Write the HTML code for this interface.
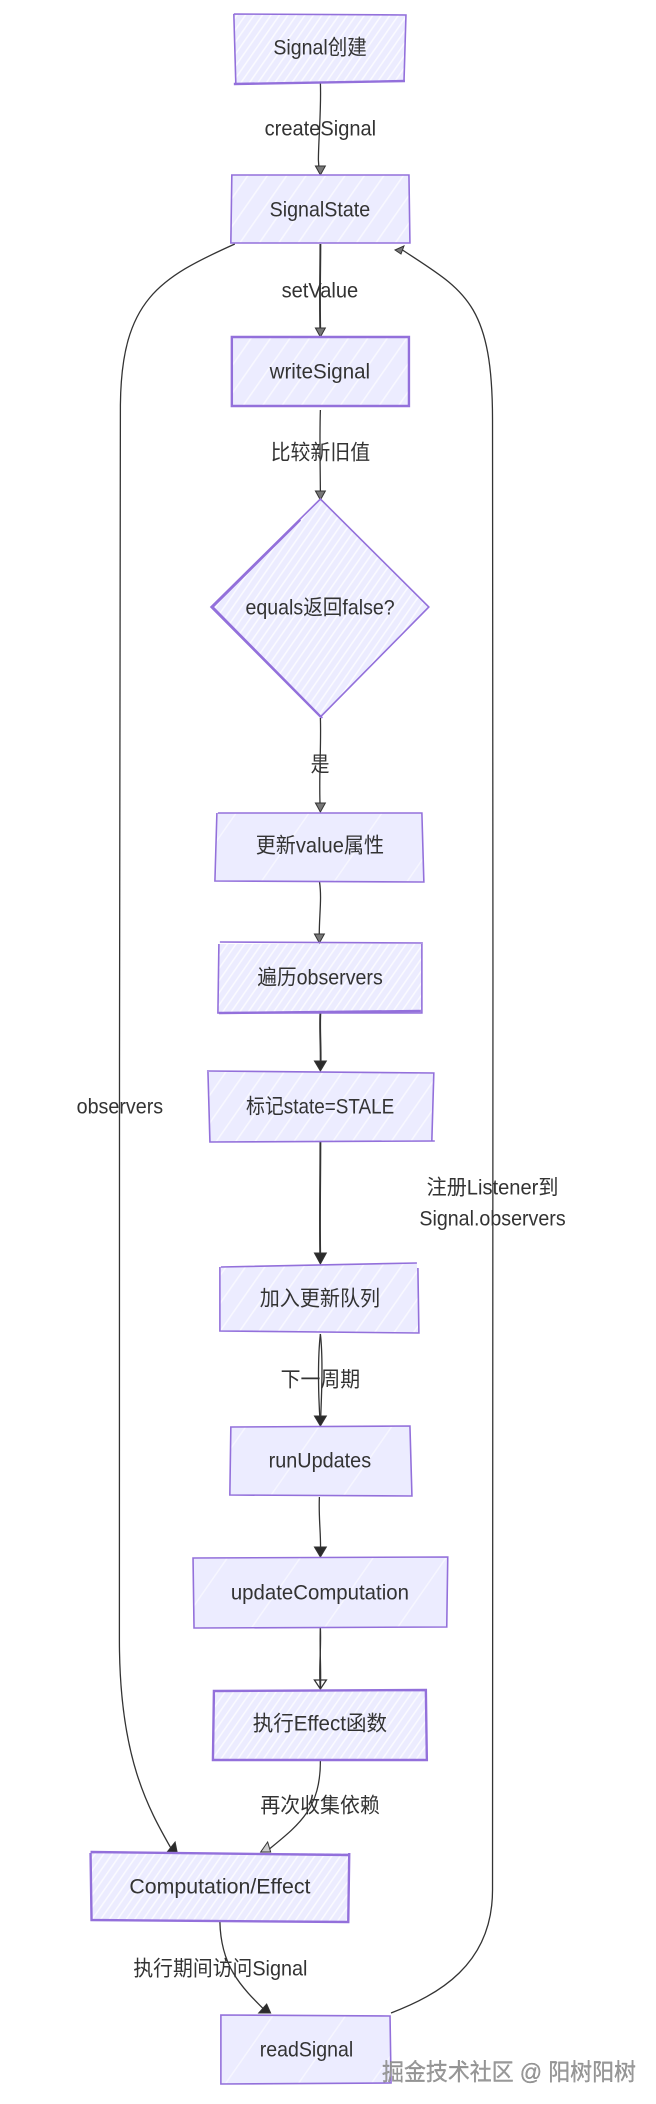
<!DOCTYPE html>
<html>
<head>
<meta charset="utf-8">
<style>
html,body{margin:0;padding:0;background:#fff;width:656px;height:2104px;overflow:hidden}
svg{display:block}
text{font-family:"Liberation Sans","Noto Sans CJK SC",sans-serif;font-size:21px;fill:#333;text-anchor:middle;dominant-baseline:central}
.n{fill:#ECECFF;stroke:none}
.s{fill:none;stroke:#9370DB;stroke-width:1.6}
.s2{fill:none;stroke:#9370DB;stroke-width:2.4}
.e{fill:none;stroke:#333;stroke-width:1.3}
.e2{fill:none;stroke:#333;stroke-width:1.9}
.a{fill:#777;stroke:#333;stroke-width:1}
.b{fill:#2b2b2b;stroke:#333;stroke-width:1}
.w{font-size:23.5px;fill:#999;stroke:#666;stroke-width:.2}
</style>
</head>
<body>
<svg width="656" height="2104" viewBox="0 0 656 2104" xmlns="http://www.w3.org/2000/svg">
<defs>
<pattern id="h1" width="7" height="7" patternUnits="userSpaceOnUse" patternTransform="rotate(35)"><rect width="7" height="7" fill="#ECECFF"/><rect width="1.6" height="7" fill="#fafaff"/></pattern>
<pattern id="h2" width="16" height="16" patternUnits="userSpaceOnUse" patternTransform="rotate(35)"><rect width="16" height="16" fill="#ECECFF"/><rect width="1.6" height="16" fill="#f8f8ff"/></pattern>
<pattern id="h3" width="60" height="60" patternUnits="userSpaceOnUse" patternTransform="rotate(35)"><rect width="60" height="60" fill="#ECECFF"/><rect width="1.5" height="60" fill="#f6f6ff"/></pattern>
</defs>
<g transform="scale(.995,1)">
<!-- edges -->
<path class="e" d="M322 83C323 110 320 140 320 160C320 167 321 170 322 174"/>
<path class="e2" d="M322 244C322 270 321 300 322 335"/>
<path class="e" d="M322 410C321 440 322 470 322 498"/>
<path class="e" d="M322 718C323 750 320 780 322 812"/>
<path class="e" d="M321 881C324 900 320 920 321 942"/>
<path class="e2" d="M322 1013C321 1030 323 1050 322 1070"/>
<path class="e2" d="M322 1142C322 1180 321 1225 322 1263"/>
<path class="e" d="M322 1334C319 1360 320 1400 322 1425"/>
<path class="e" d="M322 1334C325 1360 323 1400 322 1425"/>
<path class="e" d="M321 1497C320 1520 323 1535 322 1556"/>
<path class="e" d="M322 1628C323 1650 320 1670 322 1689"/>
<path class="e" d="M322 1628C321 1650 323 1670 322 1689"/>
<path class="e" d="M322 1761C322 1810 300 1825 267 1852"/>
<path class="e" d="M221 1922C222 1965 240 1985 269 2013"/>
<path class="e" d="M236 244C160 278 122 300 121 405C120 700 120 1300 120 1640C120 1760 150 1810 174 1852"/>
<path class="e" d="M393 2013C440 1995 495 1965 495 1890C495 1500 496 900 495 420C495 300 465 290 403 249"/>

<!-- arrowheads -->
<path class="a" d="M317 166L327 166L322 175Z"/>
<path class="a" d="M317 328L327 328L322 337Z"/>
<path class="a" d="M317 491L327 491L322 500Z"/>
<path class="a" d="M317 803L327 803L322 812Z"/>
<path class="a" d="M316 934L326 934L321 943Z"/>
<path class="b" d="M316 1061L328 1061L322 1071Z"/>
<path class="b" d="M316 1253L328 1253L322 1264Z"/>
<path class="b" d="M316 1416L328 1416L322 1426Z"/>
<path class="b" d="M316 1547L328 1547L322 1557Z"/>
<path class="e" d="M316 1680L322 1689L328 1680Z"/>
<path class="a" d="M262 1852L272 1852L269 1842Z" style="fill:#ccc"/>
<path class="b" d="M168 1852L178 1852L176 1842Z"/>
<path class="b" d="M260 2013L272 2013L268 2004Z"/>
<path class="a" d="M397 250L406 246L403 254Z"/>

<!-- nodes -->
<path class="n" style="fill:url(#h1)" d="M235 14L408 14L406 82L236 84Z"/>
<path class="s" d="M235 14L408 15L406 82M235 14L237 83"/>
<path class="s2" d="M235 84L407 81"/>

<path class="n" style="fill:url(#h2)" d="M233 175L411 175L412 243L232 243Z"/>
<path class="s" d="M233 175L411 175L412 243L232 243Z"/>

<path class="n" style="fill:url(#h2)" d="M233 337L411 337L411 406L233 406Z"/>
<path class="s2" d="M233 337L411 337L411 406L233 406Z"/>

<path class="n" style="fill:url(#h1)" d="M322 500L431 608L322 718L212 608Z"/>
<path class="s" d="M322 499L431 607L322 717L212 607Z"/>
<path class="s" d="M302 520L214 607L324 718"/>

<path class="n" style="fill:url(#h3)" d="M219 813L423 813L426 881L217 881Z"/>
<path class="s" d="M219 813L424 813L426 882L216 881L218 813"/>

<path class="n" style="fill:url(#h1)" d="M220 944L424 944L424 1012L219 1013Z"/>
<path class="s" d="M221 942L425 943M220 944L219 1013L424 1013L424 944"/>
<path class="s2" d="M220 1013L423 1011"/>

<path class="n" style="fill:url(#h2)" d="M209 1072L436 1073L434 1141L210 1142Z"/>
<path class="s" d="M208 1071L436 1073L434 1141M209 1072L211 1142L437 1141"/>

<path class="n" style="fill:url(#h2)" d="M222 1267L419 1263L421 1333L221 1332Z"/>
<path class="s" d="M222 1267L419 1263M420 1268L421 1333L221 1331L221 1267"/>

<path class="n" style="fill:url(#h3)" d="M232 1427L412 1426L413 1496L231 1495Z"/>
<path class="s" d="M232 1427L412 1426L414 1496L231 1495Z"/>

<path class="n" style="fill:url(#h3)" d="M194 1558L450 1557L449 1627L195 1627Z"/>
<path class="s" d="M194 1558L450 1557L449 1627L195 1628Z"/>

<path class="n" style="fill:url(#h1)" d="M215 1691L428 1690L429 1760L214 1760Z"/>
<path class="s2" d="M215 1691L428 1690L429 1760L214 1760Z"/>

<path class="n" style="fill:url(#h1)" d="M91 1853L351 1853L350 1921L92 1921Z"/>
<path class="s2" d="M91 1852L350 1855M351 1853L350 1922L92 1920L91 1853"/>

<path class="n" style="fill:url(#h3)" d="M222 2015L392 2016L393 2083L223 2084Z"/>
<path class="s" d="M222 2015L392 2016L393 2083L222 2084Z"/>

<!-- labels -->
<text x="321.7" y="48" textLength="94" lengthAdjust="spacingAndGlyphs">Signal创建</text>
<text x="322" y="129" textLength="112" lengthAdjust="spacingAndGlyphs">createSignal</text>
<text x="321.5" y="210" textLength="101" lengthAdjust="spacingAndGlyphs">SignalState</text>
<text x="321.5" y="291" textLength="77" lengthAdjust="spacingAndGlyphs">setValue</text>
<text x="321.5" y="372" textLength="101" lengthAdjust="spacingAndGlyphs">writeSignal</text>
<text x="322" y="453" textLength="100" lengthAdjust="spacingAndGlyphs">比较新旧值</text>
<text x="321.7" y="608" textLength="150" lengthAdjust="spacingAndGlyphs">equals返回false?</text>
<text x="321.7" y="765" textLength="19" lengthAdjust="spacingAndGlyphs">是</text>
<text x="321.5" y="846" textLength="129" lengthAdjust="spacingAndGlyphs">更新value属性</text>
<text x="321.7" y="978" textLength="126" lengthAdjust="spacingAndGlyphs">遍历observers</text>
<text x="120.5" y="1107" textLength="87" lengthAdjust="spacingAndGlyphs">observers</text>
<text x="321.7" y="1107" textLength="149" lengthAdjust="spacingAndGlyphs">标记state=STALE</text>
<text x="495" y="1188" textLength="132.5" lengthAdjust="spacingAndGlyphs">注册Listener到</text>
<text x="495" y="1219" textLength="147" lengthAdjust="spacingAndGlyphs">Signal.observers</text>
<text x="321.5" y="1299" textLength="121" lengthAdjust="spacingAndGlyphs">加入更新队列</text>
<text x="322" y="1380" textLength="80" lengthAdjust="spacingAndGlyphs">下一周期</text>
<text x="321.5" y="1461" textLength="103" lengthAdjust="spacingAndGlyphs">runUpdates</text>
<text x="321.5" y="1593" textLength="179" lengthAdjust="spacingAndGlyphs">updateComputation</text>
<text x="321.5" y="1724" textLength="135" lengthAdjust="spacingAndGlyphs">执行Effect函数</text>
<text x="321.7" y="1806" textLength="120" lengthAdjust="spacingAndGlyphs">再次收集依赖</text>
<text x="221" y="1887" textLength="182" lengthAdjust="spacingAndGlyphs">Computation/Effect</text>
<text x="221.5" y="1969" textLength="175" lengthAdjust="spacingAndGlyphs">执行期间访问Signal</text>
<text x="308" y="2050" textLength="94" lengthAdjust="spacingAndGlyphs">readSignal</text>
</g>
<text class="w" x="509" y="2072" textLength="254" lengthAdjust="spacingAndGlyphs">掘金技术社区 @ 阳树阳树</text>
</svg>
</body>
</html>
